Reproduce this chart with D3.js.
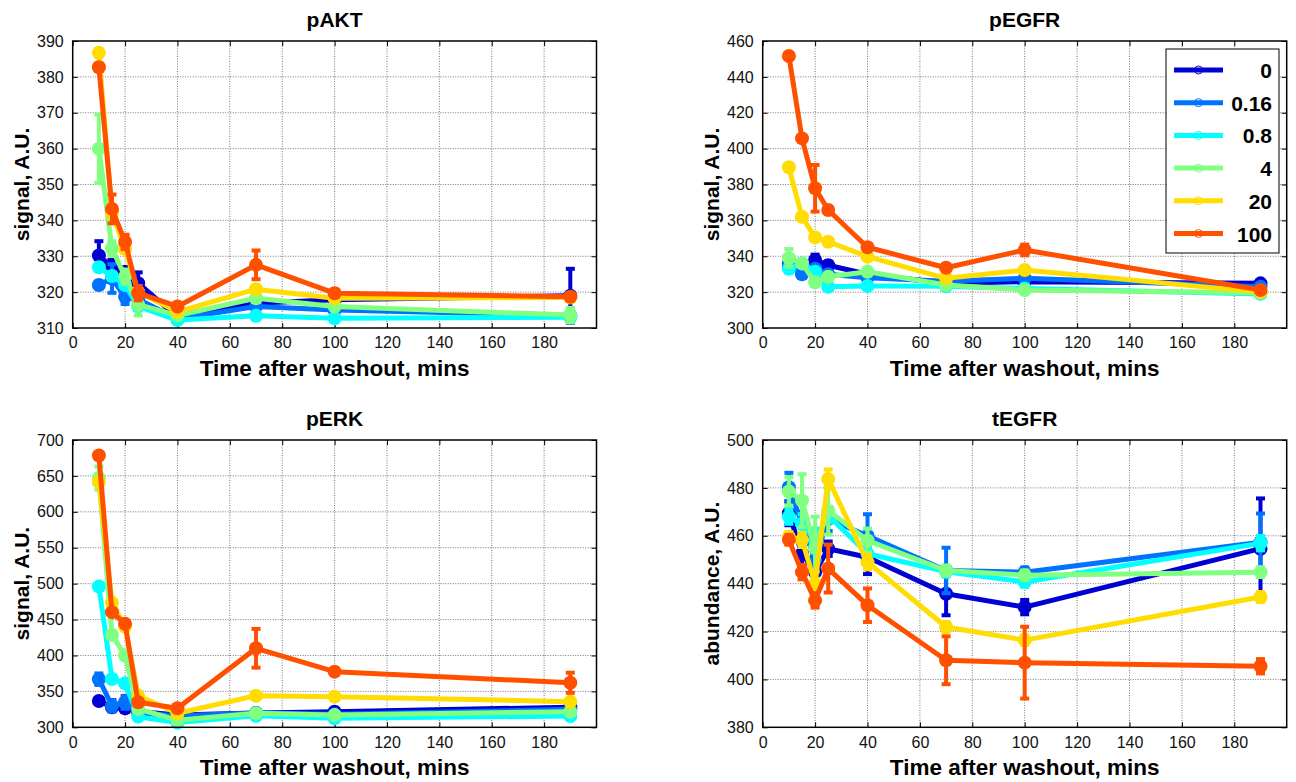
<!DOCTYPE html>
<html>
<head>
<meta charset="utf-8">
<script src="https://cdn.jsdelivr.net/npm/d3@7"></script>
<style>
  body { margin: 0; background: #fff; }
  svg { display: block; font-family: "Liberation Sans", Arial, sans-serif; }
</style>
</head>
<body>
<div id="svgHolder"></div>
<script>
// time points (mins after washout)
var times = [10, 15, 20, 25, 40, 70, 100, 190];
// doses, legend entries
var doses = ["0", "0.16", "0.8", "4", "20", "100"];
var colors = ["#0000d2", "#0072ff", "#00ffff", "#80ff80", "#ffdd00", "#ff5000"];

// pAKT
var pAKT = [
  [330.2, 327, 325, 322.5, 313, 316.9, 317.9, 319],
  [322, 323.8, 318.7, 318, 312.5, 316, 315, 313.5],
  [326.9, 324.5, 322, 316, 312.2, 313.4, 312.7, 313],
  [360, 332.2, 324.3, 316.5, 313.5, 318.3, 316, 313.6],
  [386.7, 342, 332, 320, 314.5, 320.8, 318.3, 318.5],
  [382.7, 343.2, 334, 319.7, 316, 327.6, 319.7, 318.7]
];
var pAKTerr = [
  [4, 2, 2, 3, 1, 1, 1, 7.5],
  [1, 4, 2, 1, 1, 1, 1, 1],
  [1, 1, 1, 1, 1, 1, 1, 1],
  [9.5, 2, 2, 3, 1, 1, 1, 2],
  [1, 1, 1, 1, 1, 1, 1, 1],
  [1, 4, 2, 2, 1, 4, 1, 1]
];

// pEGFR
var pEGFR = [
  [336, 333, 337.9, 335, 330, 325, 325.8, 324.9],
  [335, 330, 333, 330, 328, 326, 327.7, 323],
  [333, 336, 331.4, 323, 323.4, 323.3, 322, 319],
  [339, 336, 325.5, 328.6, 331.4, 324, 321.2, 319.6],
  [389.6, 362, 350.5, 348.1, 339.8, 327.7, 332.3, 320],
  [451.6, 405.7, 377.9, 365.8, 345, 333.6, 343.5, 321.2]
];
var pEGFRerr = [
  [2, 2, 3, 2, 1, 1, 1, 1],
  [2, 2, 2, 1, 1, 1, 1, 1],
  [2, 2, 1, 1, 1, 1, 1, 1],
  [5, 2, 2, 2, 2, 1, 1, 1],
  [1, 1, 1, 1, 1, 1, 1, 1],
  [1, 1, 13, 1, 1, 1, 3, 1]
];

// pERK
var pERK = [
  [336.7, 328, 326.5, 322, 317, 320, 321.7, 328],
  [367, 330, 334.8, 320, 316, 320, 318, 325],
  [496, 367.3, 361.3, 314.8, 306.5, 316, 312.5, 315.7],
  [647, 428.6, 399.8, 325.5, 310, 319.5, 317, 321.7],
  [641.5, 473.6, 440, 344, 319.5, 344, 342.7, 335.7],
  [678.5, 460.3, 444, 334.8, 326.5, 410, 377.5, 362]
];
var pERKerr = [
  [3, 3, 5, 2, 2, 2, 2, 2],
  [8, 8, 9, 2, 2, 2, 2, 2],
  [2, 2, 2, 2, 2, 2, 2, 2],
  [16, 3, 3, 2, 2, 2, 2, 2],
  [3, 3, 3, 3, 2, 2, 2, 5],
  [3, 3, 3, 3, 2, 27, 2, 14]
];

// tEGFR
var tEGFR = [
  [469.4, 452.5, 444.8, 454.6, 451, 435.8, 430.2, 454.6],
  [480.3, 465, 450, 467, 460, 445.5, 444.8, 457.3],
  [468, 465, 458, 468.5, 452.5, 445, 440.7, 456.9],
  [478.5, 474.7, 455, 470.5, 458, 445.5, 443.5, 444.8],
  [459.5, 458.3, 440, 483.7, 449, 421.9, 416.4, 434.4],
  [458.3, 444.8, 433, 446.3, 431, 408, 407, 405.5]
];
var tEGFRerr = [
  [5, 5, 8, 3, 7, 9, 3, 21],
  [6, 5, 5, 5, 9, 9.5, 2, 12],
  [3, 4, 5, 3, 3, 2, 2, 3],
  [6, 11, 13, 10, 5, 2, 2, 2],
  [2, 3, 5, 4, 3, 2, 2, 2],
  [2, 3, 3, 10, 7, 10, 15, 3]
];

var W = 1296, H = 782;
var svg = d3.select('#svgHolder')
  .append('svg')
  .attr('width', W)
  .attr('height', H);

var panels = [
  { title: 'pAKT', ylab: 'signal, A.U.', vals: pAKT, errs: pAKTerr, y: [310, 390], step: 10, box: [72.7, 41, 596.5, 328] },
  { title: 'pEGFR', ylab: 'signal, A.U.', vals: pEGFR, errs: pEGFRerr, y: [300, 460], step: 20, box: [762.7, 41, 1286.7, 328], legend: true },
  { title: 'pERK', ylab: 'signal, A.U.', vals: pERK, errs: pERKerr, y: [300, 700], step: 50, box: [72.7, 440, 596.5, 727.3] },
  { title: 'tEGFR', ylab: 'abundance, A.U.', vals: tEGFR, errs: tEGFRerr, y: [380, 500], step: 20, box: [762.7, 440, 1286.7, 727.3] }
];

panels.forEach(function (p) {
  var L = p.box[0], T = p.box[1], R = p.box[2], B = p.box[3];
  var x = d3.scaleLinear().domain([0, 200]).range([L, R]);
  var y = d3.scaleLinear().domain(p.y).range([B, T]);
  var xt = d3.range(0, 181, 20);
  var yt = d3.range(p.y[0], p.y[1] + 0.1, p.step);

  var g = svg.append('g');

  // grid (dotted)
  g.append('g').selectAll('line.gx').data(xt.slice(1)).enter().append('line')
    .attr('x1', function (d) { return x(d); }).attr('x2', function (d) { return x(d); })
    .attr('y1', T).attr('y2', B)
    .attr('stroke', '#555').attr('stroke-width', 0.8).attr('stroke-dasharray', '1,1.5');
  g.append('g').selectAll('line.gy').data(yt.slice(1, -1)).enter().append('line')
    .attr('x1', L).attr('x2', R)
    .attr('y1', function (d) { return y(d); }).attr('y2', function (d) { return y(d); })
    .attr('stroke', '#555').attr('stroke-width', 0.8).attr('stroke-dasharray', '1,1.5');

  // axes, ticks inward
  var xb = d3.axisBottom(x).tickValues(xt).tickSizeInner(-5).tickSizeOuter(0).tickPadding(9);
  var xtop = d3.axisTop(x).tickValues(xt).tickSizeInner(-5).tickSizeOuter(0).tickFormat('');
  var yl = d3.axisLeft(y).tickValues(yt).tickSizeInner(-5).tickSizeOuter(0).tickPadding(9);
  var yr = d3.axisRight(y).tickValues(yt).tickSizeInner(-5).tickSizeOuter(0).tickFormat('');

  [[xb, 'translate(0,' + B + ')'], [xtop, 'translate(0,' + T + ')'],
   [yl, 'translate(' + L + ',0)'], [yr, 'translate(' + R + ',0)']].forEach(function (a) {
    var ax = g.append('g').attr('transform', a[1]).call(a[0]);
    ax.select('.domain').remove();
    ax.selectAll('line').attr('stroke', '#000').attr('stroke-width', 1);
    ax.selectAll('text').attr('font-size', 16).attr('fill', '#111')
      .attr('font-family', '"Liberation Sans", Arial, sans-serif');
  });

  // series: error bars, line, markers
  p.vals.forEach(function (vals, si) {
    var c = colors[si];
    var pts = times.map(function (t, i) { return { t: t, v: vals[i], e: p.errs[si][i] }; });
    var sg = g.append('g');

    var eb = sg.selectAll('g.eb').data(pts).enter().append('g');
    eb.append('line')
      .attr('x1', function (d) { return x(d.t); }).attr('x2', function (d) { return x(d.t); })
      .attr('y1', function (d) { return y(d.v - d.e); }).attr('y2', function (d) { return y(d.v + d.e); })
      .attr('stroke', c).attr('stroke-width', 4);
    eb.selectAll('line.cap').data(function (d) { return [d.v - d.e, d.v + d.e].map(function (v) { return { t: d.t, v: v }; }); })
      .enter().append('line')
      .attr('x1', function (d) { return x(d.t) - 4.5; }).attr('x2', function (d) { return x(d.t) + 4.5; })
      .attr('y1', function (d) { return y(d.v); }).attr('y2', function (d) { return y(d.v); })
      .attr('stroke', c).attr('stroke-width', 4);

    sg.append('path')
      .datum(pts)
      .attr('d', d3.line().x(function (d) { return x(d.t); }).y(function (d) { return y(d.v); }))
      .attr('fill', 'none').attr('stroke', c).attr('stroke-width', 5).attr('stroke-linejoin', 'round');

    sg.selectAll('circle').data(pts).enter().append('circle')
      .attr('cx', function (d) { return x(d.t); })
      .attr('cy', function (d) { return y(d.v); })
      .attr('r', 7)
      .attr('fill', c);
  });

  // box
  g.append('rect')
    .attr('x', L).attr('y', T).attr('width', R - L).attr('height', B - T)
    .attr('fill', 'none').attr('stroke', '#000').attr('stroke-width', 1.5);

  // labels
  g.append('text')
    .attr('x', (L + R) / 2).attr('y', T - 14)
    .attr('text-anchor', 'middle').attr('font-size', 21).attr('font-weight', 'bold')
    .text(p.title);
  g.append('text')
    .attr('x', (L + R) / 2).attr('y', B + 48)
    .attr('text-anchor', 'middle').attr('font-size', 22.5).attr('font-weight', 'bold')
    .text('Time after washout, mins');
  g.append('text')
    .attr('transform', 'translate(' + (L - 44) + ',' + ((T + B) / 2) + ') rotate(-90)')
    .attr('text-anchor', 'middle').attr('font-size', 21).attr('font-weight', 'bold')
    .text(p.ylab);

  // legend
  if (p.legend) {
    var lg = g.append('g');
    lg.append('rect')
      .attr('x', 1166).attr('y', 49).attr('width', 113).attr('height', 204)
      .attr('fill', '#fff').attr('stroke', '#000').attr('stroke-width', 1);
    doses.forEach(function (d, i) {
      var yy = 70 + i * 32.7;
      lg.append('line')
        .attr('x1', 1174).attr('x2', 1223).attr('y1', yy).attr('y2', yy)
        .attr('stroke', colors[i]).attr('stroke-width', 5);
      lg.append('circle')
        .attr('cx', 1198.5).attr('cy', yy).attr('r', 4)
        .attr('fill', 'none').attr('stroke', colors[i]).attr('stroke-width', 1);
      lg.append('text')
        .attr('x', 1272).attr('y', yy + 8)
        .attr('text-anchor', 'end').attr('font-size', 21).attr('font-weight', 'bold')
        .text(d);
    });
  }
});
</script>
</body>
</html>
